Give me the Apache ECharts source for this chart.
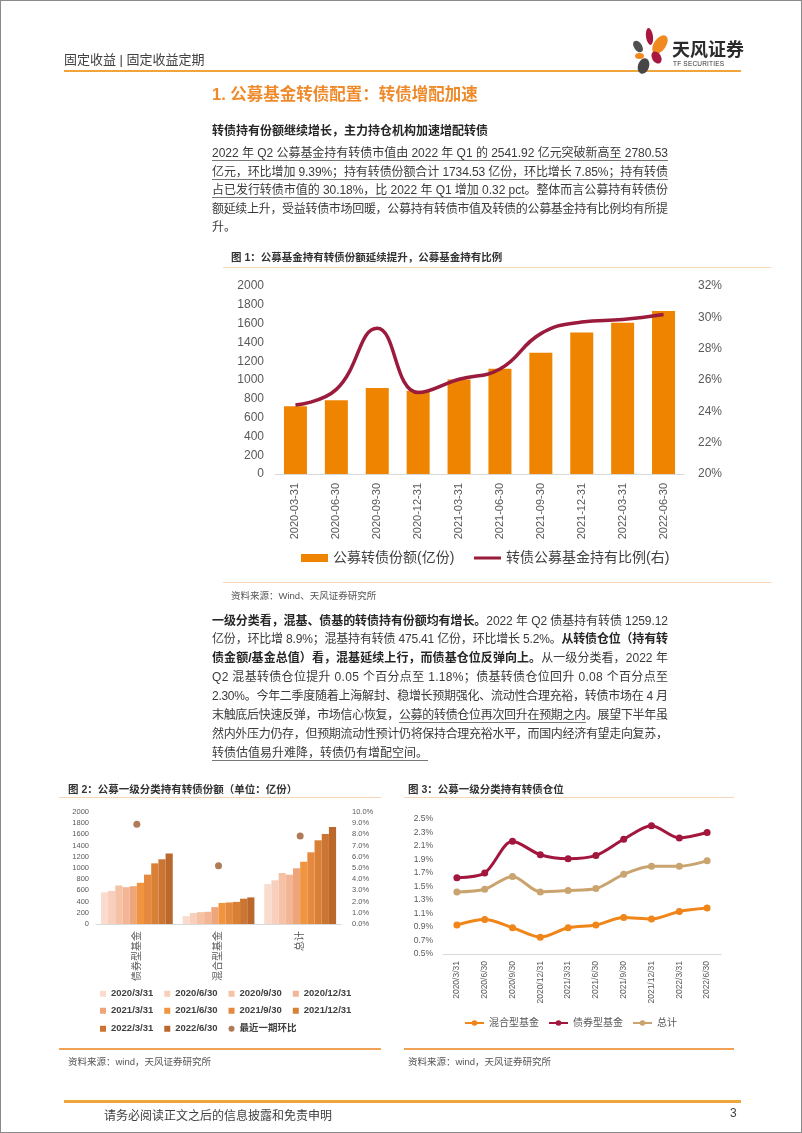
<!DOCTYPE html>
<html><head><meta charset="utf-8">
<script src="https://cdn.jsdelivr.net/npm/echarts@6/dist/echarts.min.js"></script>
<style>
html,body{margin:0;padding:0;background:#fff;}
#page{position:relative;width:802px;height:1133px;overflow:hidden;font-family:"Liberation Sans","Noto Sans CJK SC",sans-serif;color:#333;box-sizing:border-box;border:1px solid #8a8a8a;background:#fff;}
#chart{position:absolute;left:0;top:0;width:802px;height:1133px;}
.t{position:absolute;white-space:nowrap;}
.hl{position:absolute;}
.para{position:absolute;left:211px;width:456px;font-size:12px;color:#3a3a3a;}
.para div{white-space:nowrap;}
u{text-decoration:underline;text-decoration-color:#777;text-underline-offset:3px;}
b{font-weight:bold;color:#262626;}
.leaf{position:absolute;border-radius:50%;}
</style></head>
<body>
<div id="page">
<div id="chart"></div>

<!-- header -->
<div class="t" style="left:63px;top:48px;font-size:13px;color:#404040;">固定收益&nbsp;|&nbsp;固定收益定期</div>
<div class="hl" style="left:63px;top:69px;width:677px;height:2px;background:#EFA53A;"></div>
<div class="leaf" style="left:645px;top:27px;width:7px;height:17px;background:#A8173F;transform:rotate(-8deg);"></div>
<div class="leaf" style="left:653px;top:33px;width:12px;height:21px;background:#F08A1E;transform:rotate(35deg);"></div>
<div class="leaf" style="left:633px;top:39px;width:8px;height:13px;background:#505050;transform:rotate(-35deg);"></div>
<div class="leaf" style="left:634px;top:52px;width:9px;height:6px;background:#F08A1E;"></div>
<div class="leaf" style="left:651px;top:50px;width:9px;height:13px;background:#A8173F;transform:rotate(-30deg);"></div>
<div class="leaf" style="left:637px;top:57px;width:11px;height:16px;background:#474747;transform:rotate(20deg);"></div>
<div class="t" style="left:671px;top:34px;font-size:18px;font-weight:bold;color:#2b2b2b;">天风证券</div>
<div class="t" style="left:672px;top:59px;font-size:6.5px;color:#333;letter-spacing:0.2px;">TF SECURITIES</div>

<!-- section title -->
<div class="t" style="left:211px;top:80px;font-size:16.5px;font-weight:bold;color:#EF8A2B;">1. 公募基金转债配置：转债增配加速</div>
<div class="t" style="left:211px;top:120px;font-size:12px;font-weight:bold;color:#262626;">转债持有份额继续增长，主力持仓机构加速增配转债</div>

<div class="para" style="top:143px;line-height:18.6px;">
<div><u>2022 年 Q2 公募基金持有转债市值由 2022 年 Q1 的 2541.92 亿元突破新高至 2780.53</u></div>
<div><u>亿元，环比增加 9.39%；持有转债份额合计 1734.53 亿份，环比增长 7.85%；持有转债</u></div>
<div><u>占已发行转债市值的 30.18%，比 2022 年 Q1 增加 0.32 pct</u>。整体而言公募持有转债份</div>
<div>额延续上升，受益转债市场回暖，公募持有转债市值及转债的公募基金持有比例均有所提</div>
<div class="last">升。</div>
</div>

<!-- chart 1 frame -->
<div class="t" style="left:230px;top:248px;font-size:10.5px;font-weight:bold;color:#333;">图 1：公募基金持有转债份额延续提升，公募基金持有比例</div>
<div class="hl" style="left:222px;top:266px;width:548px;height:1px;background:#F6D5B8;"></div>
<div class="hl" style="left:222px;top:581px;width:548px;height:1px;background:#F6D5B8;"></div>
<div class="t" style="left:230px;top:587px;font-size:9.5px;color:#555;">资料来源：Wind、天风证券研究所</div>

<div class="para" style="top:610.5px;line-height:18.9px;">
<div><b>一级分类看，混基、债基的转债持有份额均有增长。</b>2022 年 Q2 债基持有转债 1259.12</div>
<div>亿份，环比增 8.9%；混基持有转债 475.41 亿份，环比增长 5.2%。<b>从转债仓位（持有转</b></div>
<div><b>债金额/基金总值）看，混基延续上行，而债基仓位反弹向上。</b>从一级分类看，2022 年</div>
<div>Q2 混基转债仓位提升 0.05 个百分点至 1.18%；债基转债仓位回升 0.08 个百分点至</div>
<div>2.30%。今年二季度随着上海解封、稳增长预期强化、流动性合理充裕，转债市场在 4 月</div>
<div>末触底后快速反弹，市场信心恢复，<u>公募的转债仓位再次回升在预期之内</u>。展望下半年虽</div>
<div>然内外压力仍存，但预期流动性预计仍将保持合理充裕水平，而国内经济有望走向复苏，</div>
<div class="last"><u>转债估值易升难降，转债仍有增配空间。</u></div>
</div>

<!-- chart 2 frame -->
<div class="t" style="left:67px;top:780px;font-size:10.5px;font-weight:bold;color:#333;">图 2：公募一级分类持有转债份额（单位：亿份）</div>
<div class="hl" style="left:58px;top:796px;width:322px;height:1px;background:#F6D5B8;"></div>
<div class="hl" style="left:58px;top:1047px;width:322px;height:1.5px;background:#F0A257;"></div>
<div class="t" style="left:67px;top:1053px;font-size:9.5px;color:#555;">资料来源：wind，天风证券研究所</div>

<!-- chart 3 frame -->
<div class="t" style="left:407px;top:780px;font-size:10.5px;font-weight:bold;color:#333;">图 3：公募一级分类持有转债仓位</div>
<div class="hl" style="left:403px;top:796px;width:330px;height:1px;background:#F6D5B8;"></div>
<div class="hl" style="left:403px;top:1047px;width:330px;height:1.5px;background:#F0A257;"></div>
<div class="t" style="left:407px;top:1053px;font-size:9.5px;color:#555;">资料来源：wind，天风证券研究所</div>

<!-- footer -->
<div class="hl" style="left:63px;top:1099px;width:677px;height:2.5px;background:#EFA53A;"></div>
<div class="t" style="left:103px;top:1105px;font-size:12px;color:#404040;">请务必阅读正文之后的信息披露和免责申明</div>
<div class="t" style="left:729px;top:1105px;font-size:12px;color:#404040;">3</div>
</div>

<script>
// justify each full line of the paragraphs to the column width
document.querySelectorAll('.para div').forEach(function(d){
  if (d.classList.contains('last')) return;
  const span = document.createElement('span');
  while (d.firstChild) span.appendChild(d.firstChild);
  d.appendChild(span);
  const w = span.getBoundingClientRect().width;
  const n = span.textContent.length;
  const ls = (456 - w) / (n - 1);
  d.style.letterSpacing = ls + 'px';
});

// ---- Chart 1 data ----
const cats1 = ['2020-03-31','2020-06-30','2020-09-30','2020-12-31','2021-03-31','2021-06-30','2021-09-30','2021-12-31','2022-03-31','2022-06-30'];
const shares1 = [720, 785, 915, 885, 1005, 1120, 1290, 1505, 1610, 1735];
const ratio1 = [24.4, 25.4, 29.3, 25.2, 26.05, 26.7, 28.96, 29.7, 29.86, 30.18];
const names1 = ['公募转债份额(亿份)', '转债公募基金持有比例(右)'];

// ---- Chart 2 data ----
const cats2 = ['债券型基金', '混合型基金', '总计'];
const periods2 = ['2020/3/31','2020/6/30','2020/9/30','2020/12/31','2021/3/31','2021/6/30','2021/9/30','2021/12/31','2022/3/31','2022/6/30'];
const bondShares = [565, 590, 688, 657, 675, 736, 882, 1083, 1156, 1259];
const mixedShares = [140, 195, 212, 218, 302, 376, 385, 395, 452, 475];
const totalShares = [712, 780, 910, 880, 995, 1112, 1280, 1495, 1608, 1734];
const qoq2 = [8.9, 5.2, 7.85];
const qoqName = '最近一期环比';
const colors2 = ['#F9DCCD','#F7CFBC','#F5C2A6','#F2B696','#EFA57A','#F0943F','#E4893D','#D98037','#CC7533','#BA682C'];

// ---- Chart 3 data ----
const cats3 = periods2;
const names3 = ['混合型基金', '债券型基金', '总计'];
const mixedPos = [0.93, 1.01, 0.89, 0.75, 0.89, 0.93, 1.04, 1.02, 1.13, 1.18];
const bondPos  = [1.63, 1.70, 2.17, 1.97, 1.91, 1.96, 2.20, 2.40, 2.22, 2.30];
const totalPos = [1.42, 1.46, 1.65, 1.42, 1.44, 1.47, 1.68, 1.80, 1.80, 1.88];

const FONT = '"Liberation Sans","Noto Sans CJK SC",sans-serif';
const axisGray = '#D9D9D9';
const labGray = '#595959';
const plain = v => String(v);

const series = [];
series.push({name: names1[0], type:'bar', xAxisIndex:0, yAxisIndex:0, data: shares1, barWidth:23, itemStyle:{color:'#EE8400'}});
series.push({name: names1[1], type:'line', xAxisIndex:0, yAxisIndex:1, data: ratio1, smooth:0.45, symbol:'none', lineStyle:{width:3.5, color:'#9B1B3D'}, itemStyle:{color:'#9B1B3D'}, z:5});
periods2.forEach((p,i)=>{
  series.push({name:p, type:'bar', xAxisIndex:1, yAxisIndex:2, data:[bondShares[i], mixedShares[i], totalShares[i]],
    barGap:'0%', barCategoryGap:'12%', itemStyle:{color:colors2[i]}});
});
series.push({name:qoqName, type:'scatter', xAxisIndex:1, yAxisIndex:3, data:qoq2, symbol:'circle', symbolSize:7, itemStyle:{color:'#9C5A2E'}});
const c3colors = ['#F08519', '#A3163E', '#C9A46F'];
[mixedPos, bondPos, totalPos].forEach((d,i)=>{
  series.push({name:names3[i], type:'line', xAxisIndex:2, yAxisIndex:4, data:d, smooth:0.3, symbol:'circle', symbolSize:7,
    lineStyle:{width:3, color:c3colors[i]}, itemStyle:{color:c3colors[i]}});
});

const legendText2 = {fontSize:9.5, fontWeight:'bold', color:'#404040', fontFamily:FONT};
const option = {
  animation:false,
  textStyle:{fontFamily:FONT},
  grid:[
    {left:274, top:285, width:409, height:188},
    {left:95, top:811, width:245, height:112},
    {left:442, top:818, width:278, height:135}
  ],
  xAxis:[
    {gridIndex:0, type:'category', data:cats1, axisLine:{lineStyle:{color:axisGray}}, axisTick:{show:false},
      axisLabel:{rotate:90, fontSize:11, color:labGray, margin:9}},
    {gridIndex:1, type:'category', data:cats2, axisLine:{lineStyle:{color:axisGray}}, axisTick:{show:false},
      axisLabel:{rotate:90, fontSize:10, color:labGray, margin:7}},
    {gridIndex:2, type:'category', data:cats3, axisLine:{lineStyle:{color:axisGray}}, axisTick:{show:false},
      axisLabel:{rotate:90, fontSize:8.5, color:labGray, margin:7}}
  ],
  yAxis:[
    {gridIndex:0, type:'value', min:0, max:2000, interval:200, axisLine:{show:false}, axisTick:{show:false}, splitLine:{show:false},
      axisLabel:{fontSize:12, color:labGray, margin:11, formatter:plain}},
    {gridIndex:0, type:'value', position:'right', min:20, max:32, interval:2, axisLine:{show:false}, axisTick:{show:false}, splitLine:{show:false},
      axisLabel:{fontSize:12, color:labGray, margin:14, formatter:'{value}%'}},
    {gridIndex:1, type:'value', min:0, max:2000, interval:200, axisLine:{show:false}, axisTick:{show:false}, splitLine:{show:false},
      axisLabel:{fontSize:7.5, color:labGray, margin:7, formatter:plain}},
    {gridIndex:1, type:'value', position:'right', min:0, max:10, interval:1, axisLine:{show:false}, axisTick:{show:false}, splitLine:{show:false},
      axisLabel:{fontSize:7.5, color:labGray, margin:11, formatter:v=>v.toFixed(1)+'%'}},
    {gridIndex:2, type:'value', min:0.5, max:2.5, interval:0.2, axisLine:{show:false}, axisTick:{show:false}, splitLine:{show:false},
      axisLabel:{fontSize:8.5, color:labGray, margin:10, formatter:v=>v.toFixed(1)+'%'}}
  ],
  legend:[
    {data:[{name:names1[0], icon:'rect'}], left:300, top:550, padding:0, itemWidth:27, itemHeight:8, textStyle:{fontSize:14, color:'#404040'}},
    {data:[{name:names1[1], icon:'rect'}], left:473, top:550, padding:0, itemWidth:27, itemHeight:3, textStyle:{fontSize:14, color:'#404040'}},
    {data:periods2.slice(0,4).map(n=>({name:n, icon:'rect'})), left:99, top:988, padding:0, itemWidth:6, itemHeight:6, itemGap:11, textStyle:legendText2},
    {data:periods2.slice(4,8).map(n=>({name:n, icon:'rect'})), left:99, top:1005, padding:0, itemWidth:6, itemHeight:6, itemGap:11, textStyle:legendText2},
    {data:periods2.slice(8).map(n=>({name:n, icon:'rect'})).concat([{name:qoqName, icon:'circle'}]), left:99, top:1023, padding:0, itemWidth:6, itemHeight:6, itemGap:11, textStyle:legendText2},
    {data:names3, left:463, top:1017, padding:0, itemWidth:19, itemHeight:7, itemGap:9, textStyle:{fontSize:10, color:labGray}}
  ],
  series: series
};
const chart = echarts.init(document.getElementById('chart'), null, {renderer:'canvas'});
chart.setOption(option);
</script>
</body></html>
